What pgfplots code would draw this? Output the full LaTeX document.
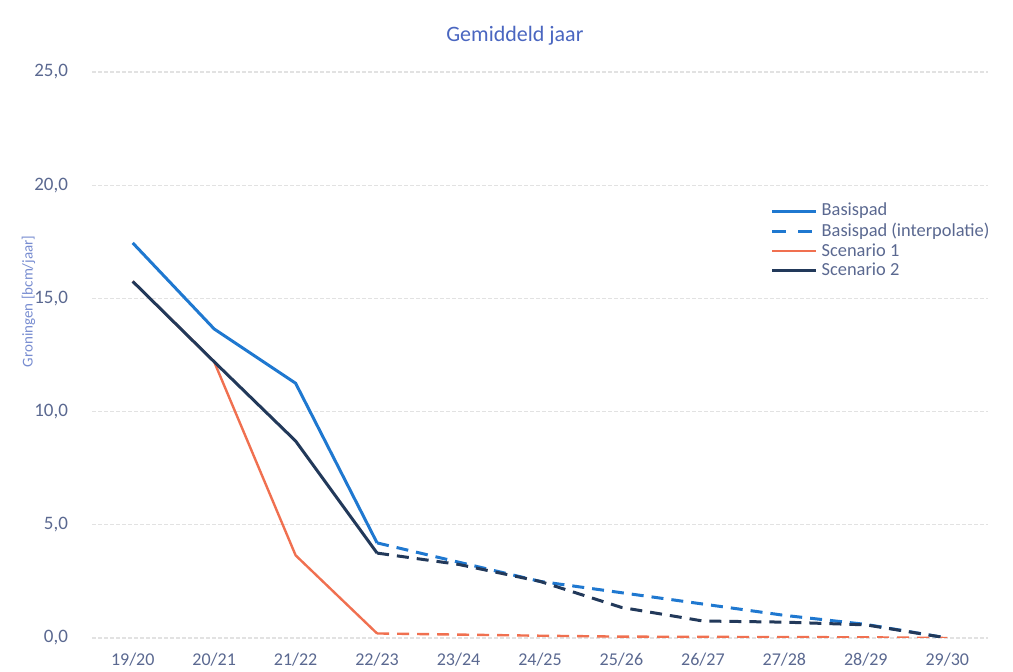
\documentclass[border=0pt]{standalone}
\usepackage{pgfplots}
\pgfplotsset{compat=1.18}
\usepackage{fontspec}
\setmainfont{Carlito}
\definecolor{cBasis}{HTML}{1F78D0}
\definecolor{cScen1}{HTML}{F07050}
\definecolor{cScen2}{HTML}{22395A}
\definecolor{cTitle}{HTML}{4A66C0}
\definecolor{cTick}{HTML}{5A6890}
\definecolor{cGrid}{HTML}{E2E2E2}
\begin{document}
\begin{tikzpicture}
\path[use as bounding box] (-46pt,-17pt) rectangle (460.5pt,319pt);
\begin{axis}[
  scale only axis,
  width=448pt, height=283pt,
  xmin=-0.5, xmax=10.5, ymin=0, ymax=25,
  xtick={0,...,10},
  xticklabels={19/20,20/21,21/22,22/23,23/24,24/25,25/26,26/27,27/28,28/29,29/30},
  ytick={0,5,10,15,20,25},
  major tick length=0pt,
  axis line style={draw=none},
  ymajorgrids, grid style={cGrid, line width=0.6pt, dash pattern=on 2pt off 1pt},
  /pgf/number format/.cd, use comma, fixed, fixed zerofill, precision=1, assume math mode=true,
  /pgfplots/.cd,
  xticklabel style={font=\fontsize{9}{11}\selectfont, text=cTick, yshift=-4pt},
  yticklabel style={font=\fontsize{9.5}{11}\selectfont, text=cTick, xshift=-8.5pt},
  title={Gemiddeld jaar},
  title style={at={(axis description cs:0.472,1.0425)}, anchor=center, font=\fontsize{11}{13}\selectfont, text=cTitle},
  ylabel={Groningen [bcm/jaar]},
  ylabel style={at={(axis description cs:-0.071,0.595)}, anchor=center, font=\fontsize{7.5}{9}\selectfont, text=cTitle!75},
  legend style={draw=none, fill=none, at={(0.757,0.776)}, anchor=north west,
    font=\fontsize{9.2}{11}\selectfont, text=cTick, row sep=-2pt, inner sep=0pt},
  legend cell align=left,
  legend image code/.code={\draw[#1] (0pt,0pt) -- (22pt,0pt);},
]
\addplot[cBasis, line width=1.5pt] coordinates {(0,17.45) (1,13.65) (2,11.25) (3,4.2)};
\addlegendentry{Basispad}
\addplot[cBasis, line width=1.5pt, dash pattern=on 6pt off 4pt, legend image post style={dash pattern=on 7pt off 6pt}] coordinates {(3,4.2) (4,3.35) (5,2.5) (6,2.0) (7,1.5) (8,1.0) (9,0.6) (10,0.0)};
\addlegendentry{Basispad (interpolatie)}
\addplot[cScen1, line width=1.2pt] coordinates {(0,15.75) (1,12.2) (2,3.65) (3,0.2)};
\addlegendentry{Scenario 1}
\addplot[cScen2, line width=1.5pt] coordinates {(0,15.75) (1,12.2) (2,8.7) (3,3.75)};
\addlegendentry{Scenario 2}
\addplot[cScen1, line width=1.2pt, dash pattern=on 6pt off 4pt, forget plot] coordinates {(3,0.2) (4,0.15) (5,0.1) (6,0.06) (7,0.05) (8,0.04) (9,0.03) (10,0.0)};
\addplot[cScen2, line width=1.5pt, dash pattern=on 6pt off 4pt, forget plot] coordinates {(3,3.75) (4,3.25) (5,2.5) (6,1.35) (7,0.75) (8,0.7) (9,0.58) (10,0.0)};
\end{axis}
\end{tikzpicture}
\end{document}
